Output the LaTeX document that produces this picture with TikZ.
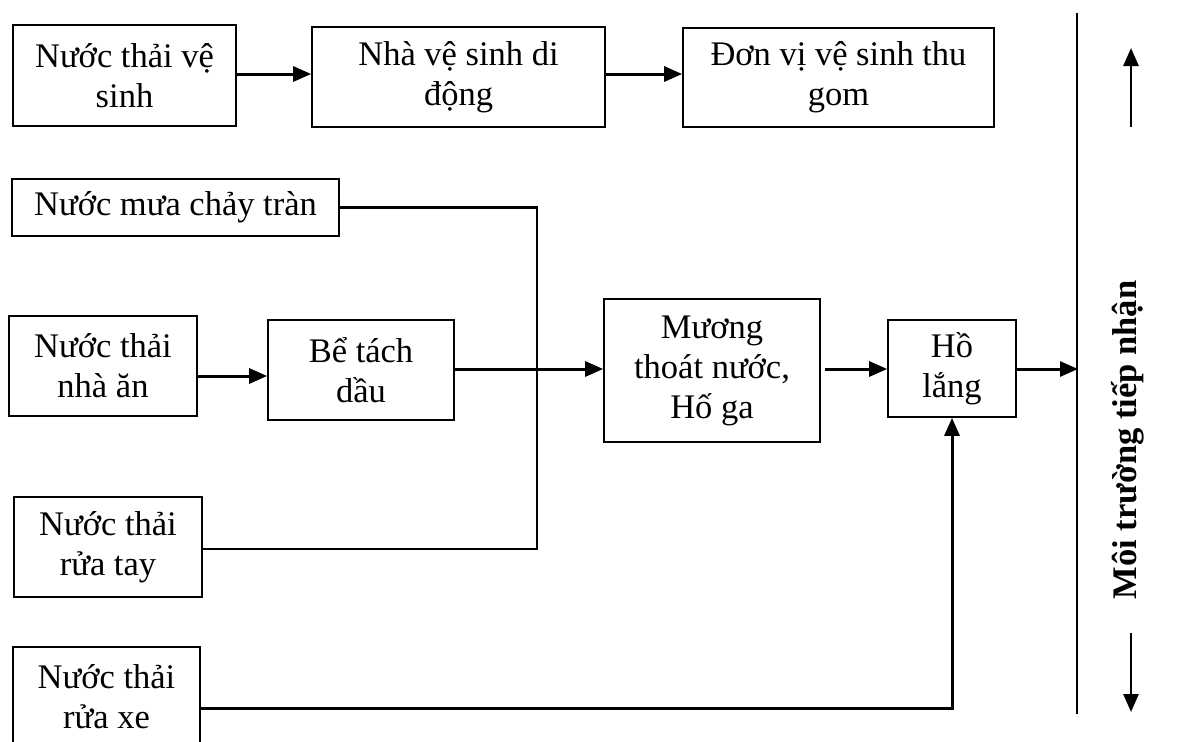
\documentclass[tikz,border=0pt]{standalone}
\usepackage{fontspec}
\setmainfont{Liberation Serif}
\usetikzlibrary{arrows.meta}
\begin{document}
\begin{tikzpicture}[x=1pt,y=-1pt,
  box/.style={draw, line width=1.7pt, inner sep=0pt, align=center,
    font=\fontsize{34.5}{40}\selectfont},
  link/.style={line width=2.6pt, line join=miter},
  flow/.style={line width=3pt, -{Triangle[length=18pt,width=15pt]}},
  side/.style={line width=2.6pt, -{Triangle[length=18pt,width=15pt]}}]
\useasboundingbox (0,0) rectangle (1187,742);
\clip (0,0) rectangle (1187,742);

% top row: mobile toilets
\node[box, minimum width=223pt, minimum height=101pt] (vs) at (124.5,75.5) {Nước thải vệ\\sinh};
\node[box, minimum width=293pt, minimum height=100pt] (nvs) at (458.5,77) {Nhà vệ sinh di\\động};
\node[box, minimum width=311pt, minimum height=99pt] (dv) at (838.5,77.5) {Đơn vị vệ sinh thu\\gom};

% sources on the left
\node[box, minimum width=327pt, minimum height=57pt] (mua) at (175.5,207.5) {Nước mưa chảy tràn};
\node[box, minimum width=188pt, minimum height=100pt] (na) at (103,366) {Nước thải\\nhà ăn};
\node[box, minimum width=186pt, minimum height=100pt] (be) at (361,370) {Bể tách\\dầu};
\node[box, minimum width=188pt, minimum height=100pt] (tay) at (108,547) {Nước thải\\rửa tay};
\node[box, minimum width=187pt, minimum height=100pt] (xe) at (106.5,697) {Nước thải\\rửa xe};

% treatment
\node[box, minimum width=216pt, minimum height=143pt] (muong) at (712,370.5) {Mương\\thoát nước,\\Hố ga};
\node[box, minimum width=128pt, minimum height=97pt] (ho) at (952,368.5) {Hồ\\lắng};

% receiving environment
\coordinate (dtop) at (1077,13);
\coordinate (dbot) at (1077,714);
\coordinate (din) at (1078,369);
\node[rotate=90, font=\bfseries\fontsize{34.5}{40}\selectfont] (mt) at (1128,440) {Môi trường tiếp nhận};
\coordinate (upa) at (1131,127);
\coordinate (upb) at (1131,48);
\coordinate (dna) at (1131,633);
\coordinate (dnb) at (1131,712);

% collector line
\coordinate (j2) at (537,549);

% connectors
\draw[flow] (vs.east |- 0,74) -- (nvs.west |- 0,74);
\draw[flow] (nvs.east |- 0,74) -- (dv.west |- 0,74);
\draw[link] (mua.east) -| (j2) -- (tay.east |- j2);
\draw[flow] ([yshift=-10pt]na.east) -- (be.west |- 0,376);
\draw[flow] (be.east |- 0,369) -- (muong.west |- 0,369);
\draw[flow, shorten <=4pt] (muong.east |- 0,369) -- (ho.west |- 0,369);
\draw[flow] (ho.east |- 0,369) -- (din);
\draw[flow] (xe.east |- 0,708) -| (ho.south);
\draw[line width=2.2pt] (dtop) -- (dbot);
\draw[side] (upa) -- (upb);
\draw[side] (dna) -- (dnb);
\end{tikzpicture}
\end{document}
